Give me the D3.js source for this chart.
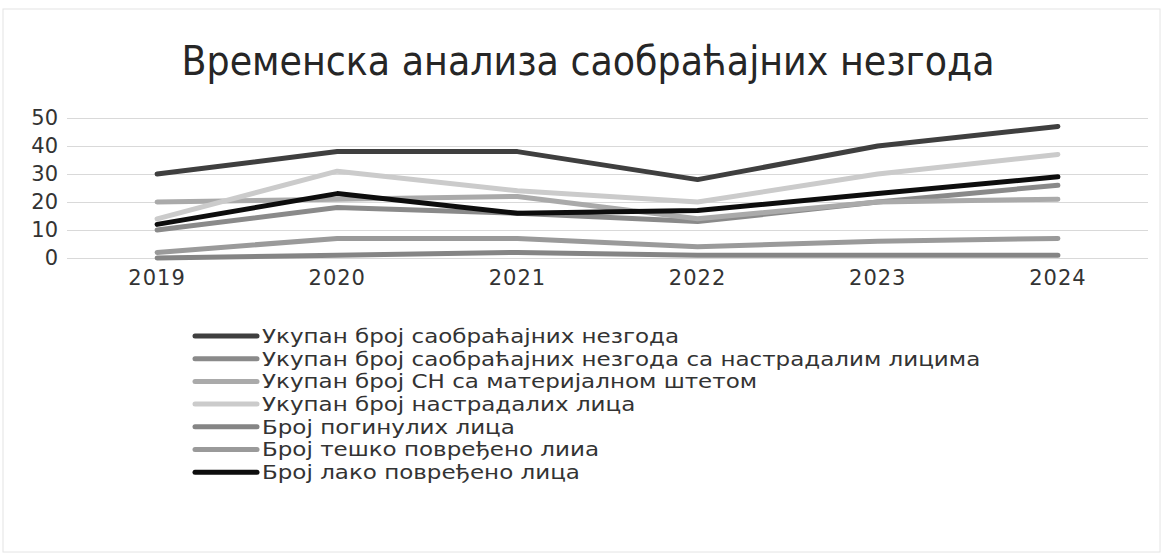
<!DOCTYPE html>
<html>
<head>
<meta charset="utf-8">
<script src="https://cdn.jsdelivr.net/npm/d3@7"></script>
<style>
  body { margin: 0; background: #fff; }
  svg text { font-family: "DejaVu Sans", sans-serif; fill: #404040; }
</style>
</head>
<body>
<div id="chart"></div>
<script>
const width = 1163;
const height = 555;

// chart data
const years = ["2019", "2020", "2021", "2022", "2023", "2024"];
const seriesNames = [
    "Укупан број саобраћајних незгода",
    "Укупан број саобраћајних незгода са настрадалим лицима",
    "Укупан број СН са материјалном штетом",
    "Укупан број настрадалих лица",
    "Број погинулих лица",
    "Број тешко повређено лииа",
    "Број лако повређено лица"
];
const totalAccidents = [30, 38, 38, 28, 40, 47];
const injuryAccidents = [10, 18, 16, 13, 20, 26];
const damageAccidents = [20, 21, 22, 14, 20, 21];
const totalCasualties = [14, 31, 24, 20, 30, 37];
const killed = [0, 1, 2, 1, 1, 1];
const seriouslyInjured = [2, 7, 7, 4, 6, 7];
const lightlyInjured = [12, 23, 16, 17, 23, 29];
const yTicks = [0, 10, 20, 30, 40, 50];

const seriesValues = [totalAccidents, injuryAccidents, damageAccidents, totalCasualties,
    killed, seriouslyInjured, lightlyInjured];
const colors = ["#3f3f3f", "#8a8a8a", "#aaaaaa", "#cbcbcb", "#858585", "#9a9a9a", "#0d0d0d"];

const series = seriesNames.map((name, i) => ({
    name: name,
    color: colors[i],
    values: years.map((y, j) => ({ year: y, value: seriesValues[i][j] }))
}));

const svg = d3.select("#chart")
    .append("svg")
    .attr("width", width)
    .attr("height", height);

// faint frame of the chart area
svg.append("rect")
    .attr("x", 3)
    .attr("y", 9)
    .attr("width", width - 6)
    .attr("height", height - 12)
    .attr("fill", "none")
    .attr("stroke", "#e4e4e4")
    .attr("stroke-width", 1);

const x = d3.scaleBand()
    .domain(years)
    .range([67, 1148]);

const y = d3.scaleLinear()
    .domain([0, 50])
    .range([258, 118]);

// title
svg.append("text")
    .attr("x", 588)
    .attr("y", 75)
    .attr("text-anchor", "middle")
    .style("font-family", "'DejaVu Sans Condensed', 'DejaVu Sans', sans-serif")
    .style("font-size", "40.5px")
    .style("fill", "#262626")
    .text("Временска анализа саобраћајних незгода");

// gridlines + y labels
const yAxis = svg.append("g")
    .attr("transform", "translate(67,0)")
    .call(d3.axisLeft(y)
        .tickValues(yTicks)
        .tickSize(-(1148 - 67))
        .tickPadding(9));
yAxis.select(".domain").remove();
yAxis.selectAll(".tick line")
    .attr("stroke", "#d9d9d9")
    .attr("stroke-width", 1);
yAxis.selectAll(".tick text")
    .style("font-size", "21px")
    .style("fill", "#333");

// x labels
const xAxis = svg.append("g")
    .attr("transform", "translate(0,258)")
    .call(d3.axisBottom(x).tickSize(0).tickPadding(12));
xAxis.select(".domain").remove();
xAxis.selectAll(".tick text")
    .style("font-size", "21px")
    .style("letter-spacing", "1px")
    .style("fill", "#333");

const line = d3.line()
    .x(d => x(d.year) + x.bandwidth() / 2)
    .y(d => y(d.value));

svg.append("g")
    .selectAll("path")
    .data(series)
    .join("path")
    .attr("d", d => line(d.values))
    .attr("fill", "none")
    .attr("stroke", d => d.color)
    .attr("stroke-width", 5)
    .attr("stroke-linecap", "round")
    .attr("stroke-linejoin", "round");

// legend
const legend = svg.append("g")
    .attr("transform", "translate(195,336)");

const rows = legend.selectAll("g")
    .data(series)
    .join("g")
    .attr("transform", (d, i) => `translate(0,${i * 22.7})`);

rows.append("line")
    .attr("x1", 0)
    .attr("x2", 62)
    .attr("y1", 0)
    .attr("y2", 0)
    .attr("stroke", d => d.color)
    .attr("stroke-width", 5)
    .attr("stroke-linecap", "round");

// the scanned legend text is wide for its height, so stretch it a little
rows.append("text")
    .attr("transform", "translate(67,0) scale(1.18,1)")
    .attr("dy", "0.35em")
    .style("font-size", "19.5px")
    .style("fill", "#333")
    .text(d => d.name);
</script>
</body>
</html>
